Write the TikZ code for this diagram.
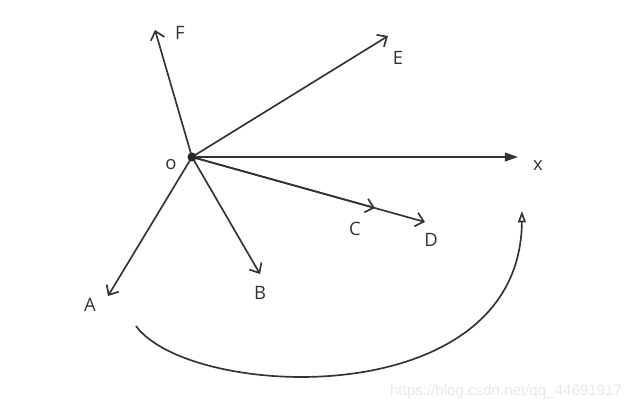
\documentclass[tikz,border=0pt]{standalone}
\usepackage{fontspec}
\setmainfont{Open Sans}
\newfontfamily\wmfont{Liberation Sans}
\usetikzlibrary{arrows.meta}

\begin{document}
\begin{tikzpicture}[x=0.02cm,y=-0.02cm,
  vec/.style={draw=black!80,line width=0.95pt,-{Straight Barb[length=4.5pt,width=8pt]}},
  lbl/.style={text=black!80,font=\fontsize{10.5}{12}\selectfont,inner sep=0pt}]

\useasboundingbox (0,0) rectangle (637,411);

% origine
\coordinate (O) at (192,157);
\node[lbl] (olbl) at (171,165) {o};

% vecteurs
\foreach \n/\x/\y in {
F/155/30,E/388/36,C/375/208,
D/425/222,B/260/274,A/108/296
}
{
\coordinate (\n) at (\x,\y);
\draw[vec] (O) -- (\n);
}

% axe x
\coordinate (X) at (518,157);
\draw[draw=black!80,line width=0.95pt,-{Triangle[length=7.5pt,width=5pt]}] (O) -- (X);

\fill[black!85] (O) circle (4.5);

% etiquettes
\node[lbl] (flbl) at (180,33) {F};
\node[lbl] (elbl) at (398,58) {E};
\node[lbl] (xlbl) at (538,166) {x};
\node[lbl] (clbl) at (355,229) {C};
\node[lbl] (dlbl) at (431,240) {D};
\node[lbl] (blbl) at (260,293) {B};
\node[lbl] (albl) at (90,305) {A};

% rotation
\coordinate (r0) at (136,326);
\coordinate (r1) at (522,211);
\draw[draw=black!80,line width=0.95pt,-{Triangle[open,length=6.5pt,width=4.5pt]}]
  (r0) .. controls (190,400) and (520,415) .. (r1);

\node[text=black!9,font=\wmfont\fontsize{8.6}{10}\selectfont,inner sep=0pt] (wm) at (506,392) {https://blog.csdn.net/qq\_44691917};

\end{tikzpicture}
\end{document}
